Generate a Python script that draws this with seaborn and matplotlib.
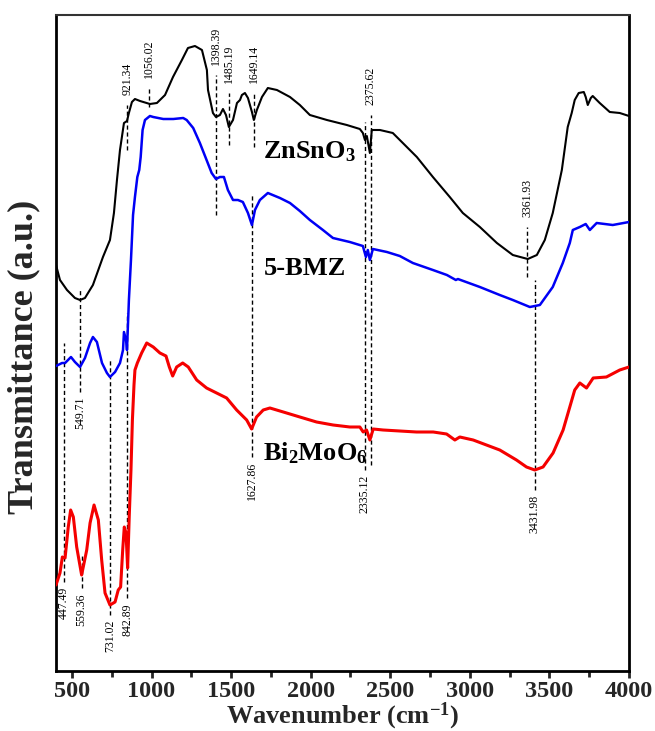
import numpy as np
import pandas as pd
import matplotlib
matplotlib.use("Agg")
import matplotlib.pyplot as plt
import seaborn as sns

# ---------------- data (wavenumber cm-1, transmittance a.u.) ----------------
zn_wn = [400, 425, 469, 519, 551, 582, 632, 695, 739, 764, 783, 802, 827, 846, 858, 877, 896, 928,
         990, 1034, 1085, 1135, 1191, 1229, 1273, 1317, 1348, 1355, 1386, 1405, 1430, 1449, 1468,
         1486, 1512, 1537, 1556, 1568, 1587, 1606, 1631, 1643, 1662, 1694, 1731, 1788, 1870, 1932,
         1995, 2102, 2227, 2309, 2328, 2341, 2353, 2372, 2384, 2435, 2516, 2579, 2667, 2768, 2874,
         2956, 3063, 3170, 3270, 3364, 3421, 3471, 3521, 3578, 3615, 3640, 3659, 3684, 3716, 3728,
         3741, 3760, 3772, 3816, 3879, 3942, 4000]
zn_t = [406, 391, 381, 373, 371, 373, 386, 414, 431, 458, 491, 521, 548, 550, 558, 569, 572, 570,
        567, 568, 576, 594, 611, 623, 625, 621, 601, 581, 558, 554, 556, 562, 556,
        544, 551, 568, 571, 576, 578, 573, 559, 551, 561, 574, 583, 581, 574, 566,
        556, 551, 546, 542, 538, 531, 535, 518, 541, 541, 538, 528, 514, 494, 474,
        458, 444, 428, 416, 412, 416, 431, 458, 501, 544, 558, 571, 578, 579, 574,
        566, 573, 575, 568, 559, 558, 555]

bmz_wn = [400, 438, 457, 494, 519, 551, 582, 614, 632, 657, 689, 720, 739, 771, 802, 821, 827, 840,
          846, 854, 858, 871, 884, 896, 911, 923, 932, 944, 959, 990, 1011, 1074, 1137, 1199, 1221,
          1262, 1304, 1346, 1378, 1405, 1430, 1455, 1480, 1512, 1543, 1574, 1606, 1631, 1650, 1681,
          1731, 1807, 1870, 1932, 1995, 2077, 2140, 2246, 2328, 2347, 2359, 2372, 2391, 2479, 2560,
          2642, 2768, 2856, 2912, 2925, 3063, 3188, 3270, 3377, 3440, 3521, 3584, 3628, 3647, 3691,
          3728, 3754, 3797, 3898, 4000]
bmz_t = [305, 308, 308, 314, 309, 304, 313, 328, 334, 329, 308, 298, 294, 299, 308, 321, 339, 331,
         321, 354, 371, 411, 456, 474, 494, 501, 514, 541, 551, 555, 554, 552, 552, 553, 551,
         543, 528, 511, 498, 492, 494, 494, 481, 471, 471, 469, 458, 446, 461, 471,
         478, 473, 468, 460, 451, 441, 433, 429, 425, 414, 421, 411, 422, 419, 415,
         408, 401, 396, 391, 392, 384, 376, 371, 364, 366, 384, 408, 428, 441, 444,
         447, 441, 448, 446, 449]

bmo_wn = [400, 425, 440, 457, 477, 492, 509, 530, 561, 593, 614, 639, 666, 687, 708, 739, 771, 791,
          806, 819, 829, 840, 850, 860, 871, 880, 890, 896, 911, 938, 970, 1011, 1053, 1091, 1112,
          1133, 1158, 1196, 1231, 1284, 1346, 1409, 1472, 1535, 1598, 1629, 1660, 1702, 1744, 1828,
          1932, 2037, 2141, 2246, 2309, 2330, 2351, 2372, 2393, 2455, 2560, 2665, 2770, 2854, 2906,
          2937, 3021, 3188, 3293, 3356, 3408, 3460, 3523, 3586, 3628, 3659, 3691, 3733, 3775, 3858,
          3942, 4000]
bmo_t = [86, 98, 114, 113, 144, 161, 154, 124, 96, 121, 148, 166, 151, 111, 78, 66, 69, 81,
         84, 121, 144, 138, 103, 154, 201, 251, 286, 301, 308, 318, 328, 324, 318, 315, 304,
         295, 304, 308, 304, 291, 283, 278, 273, 261, 251, 242, 254, 261, 263, 259,
         254, 249, 246, 244, 244, 239, 241, 231, 242, 241, 240, 239, 239, 237, 231,
         234, 231, 221, 211, 204, 201, 204, 218, 241, 264, 281, 288, 283, 293, 294,
         301, 304]

# peak annotations: label, x, dashed-line top, dashed-line bottom, label side
ann_labels = ["921.34", "1056.02", "1398.39", "1485.19", "1649.14", "2375.62", "2335.12",
              "3361.93", "549.71", "1627.86", "3431.98", "447.49", "559.36", "731.02", "842.89"]
ann_x = [848, 986, 1403, 1488, 1645, 2376, 2341, 3362, 551, 1629, 3408, 452, 561, 739, 848]
ann_top = [566, 583, 596, 578, 578, 556, 549, 444, 383, 476, 391, 328, 116, 311, 358]
ann_bot = [521, 564, 456, 526, 524, 206, 201, 394, 279, 214, 181, 89, 83, 56, 73]
ann_side = ["up", "up", "up", "up", "up", "up", "down", "up", "down", "down", "down",
            "down", "down", "down", "down"]

sample_names = ["ZnSnO$_3$", "5-BMZ", "Bi$_2$MoO$_6$"]
sample_colors = ["#000000", "#0000F5", "#F50000"]

x_ticks = [500, 1000, 1500, 2000, 2500, 3000, 3500, 4000]

# ---------------- style ----------------
sns.set_style("white")
SERIF = ["Liberation Serif", "DejaVu Serif"]
plt.rcParams["font.family"] = SERIF
plt.rcParams["mathtext.fontset"] = "custom"
plt.rcParams["mathtext.rm"] = "Liberation Serif:bold"
plt.rcParams["mathtext.it"] = "Liberation Serif:bold"
plt.rcParams["mathtext.bf"] = "Liberation Serif:bold"
plt.rcParams["mathtext.default"] = "rm"

W, H = 655, 731
fig = plt.figure(figsize=(W / 100, H / 100), dpi=100)
ax = fig.add_axes([56 / W, 1 - 671 / H, (629 - 56) / W, (671 - 15) / H])

frames = [
    pd.DataFrame({"wn": zn_wn, "T": zn_t}),
    pd.DataFrame({"wn": bmz_wn, "T": bmz_t}),
    pd.DataFrame({"wn": bmo_wn, "T": bmo_t}),
]
widths = [1.5, 1.8, 2.2]
for df, c, lw in zip(frames, sample_colors, widths):
    sns.lineplot(data=df, x="wn", y="T", color=c, linewidth=lw, ax=ax,
                 sort=False, estimator=None, zorder=3)

# dashed guide lines + rotated labels
for lab, x, yt, yb, side in zip(ann_labels, ann_x, ann_top, ann_bot, ann_side):
    ax.plot([x, x], [yb, yt], color="black", lw=1.0, ls=(0, (3, 2)), zorder=2)
    if side == "up":
        ax.text(x, yt + 10, lab, rotation=90, ha="center", va="bottom",
                fontsize=8.5, family=SERIF, color="black")
    else:
        ax.text(x, yb - 5, lab, rotation=90, ha="center", va="top",
                fontsize=8.5, family=SERIF, color="black")

# sample names
name_pos = [(1700, 513), (1706, 396), (1700, 211)]
for name, (x, y) in zip(sample_names, name_pos):
    ax.text(x, y, name, fontsize=19, fontweight="bold", family=SERIF,
            ha="left", va="baseline", color="black")

ax.set_xlim(400, 4000)
ax.set_ylim(0, 656)
ax.set_yticks([])
ax.set_xticks(x_ticks)
ax.set_xticks([750, 1250, 1750, 2250, 2750, 3250, 3750], minor=True)
ax.tick_params(axis="x", which="major", direction="out", length=5, width=2,
               bottom=True, labelsize=17.5, pad=2)
ax.tick_params(axis="x", which="minor", direction="out", length=4, width=2, bottom=True)
for lbl in ax.get_xticklabels():
    lbl.set_fontweight("bold")
    lbl.set_family(SERIF)

for sp in ax.spines.values():
    sp.set_linewidth(2)
    sp.set_color("black")
ax.spines["top"].set_linewidth(1.5)
ax.spines["top"].set_color("#333333")

ax.set_xlabel("Wavenumber (cm$^{-1}$)", fontsize=19, fontweight="bold", family=SERIF, labelpad=-1)
ax.set_ylabel("Transmittance (a.u.)", fontsize=26, fontweight="bold", family=SERIF)
ax.yaxis.set_label_coords(-0.028, 0.479)

fig.savefig("out.png", dpi=100)
